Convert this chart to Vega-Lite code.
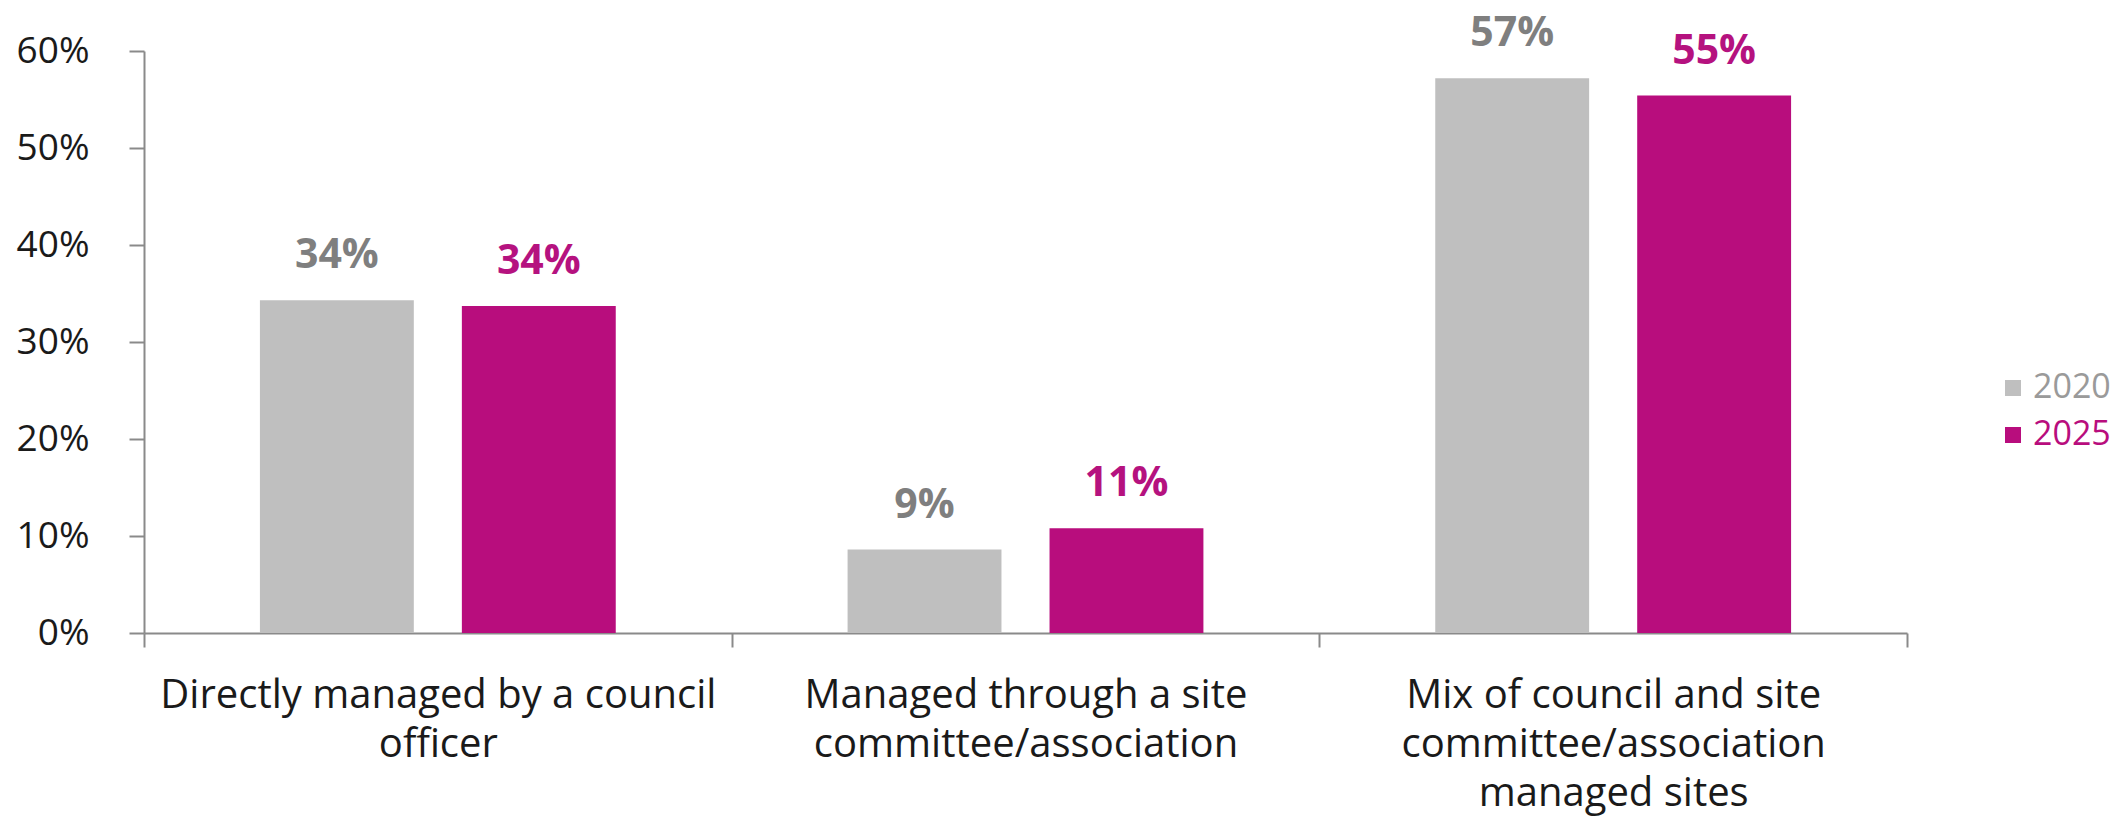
{
  "$schema": "https://vega.github.io/schema/vega-lite/v6.json",
  "width": 1763,
  "height": 582,
  "autosize": {"type": "none"},
  "padding": {"left": 144, "top": 51, "right": 206, "bottom": 192},
  "background": "white",
  "config": {"view": {"stroke": null}, "font": "Open Sans"},
  "data": {
    "values": [
      {"category": "Directly managed by a council officer", "year": "2020", "value": 0.343},
      {"category": "Directly managed by a council officer", "year": "2025", "value": 0.337},
      {"category": "Managed through a site committee/association", "year": "2020", "value": 0.086},
      {"category": "Managed through a site committee/association", "year": "2025", "value": 0.108},
      {"category": "Mix of council and site committee/association managed sites", "year": "2020", "value": 0.572},
      {"category": "Mix of council and site committee/association managed sites", "year": "2025", "value": 0.554}
    ]
  },
  "encoding": {
    "x": {
      "field": "category",
      "type": "nominal",
      "sort": null,
      "scale": {"paddingInner": 0, "paddingOuter": 0},
      "axis": {
        "title": null,
        "labelAngle": 0,
        "tickBand": "extent",
        "tickSize": 14,
        "tickColor": "#8a8a8a",
        "domainColor": "#8a8a8a",
        "domainWidth": 2,
        "tickWidth": 2,
        "labelFontSize": 40,
        "labelColor": "#1a1a1a",
        "labelPadding": 28,
        "labelLineHeight": 49,
        "labelBaseline": "top",
        "labelLimit": 0,
        "labelOverlap": false,
        "labelExpr": "datum.value == 'Directly managed by a council officer' ? ['Directly managed by a council', 'officer'] : datum.value == 'Managed through a site committee/association' ? ['Managed through a site', 'committee/association'] : datum.value == 'Mix of council and site committee/association managed sites' ? ['Mix of council and site', 'committee/association', 'managed sites'] : ''"
      }
    },
    "xOffset": {
      "field": "year",
      "type": "nominal",
      "scale": {"paddingInner": 0.238, "paddingOuter": 0.574}
    },
    "y": {
      "field": "value",
      "type": "quantitative",
      "scale": {"domain": [0, 0.6]},
      "axis": {
        "title": null,
        "grid": false,
        "format": ".0%",
        "values": [0, 0.1, 0.2, 0.3, 0.4, 0.5, 0.6],
        "tickSize": 15,
        "tickColor": "#8a8a8a",
        "domainColor": "#8a8a8a",
        "domainWidth": 2,
        "tickWidth": 2,
        "labelFontSize": 37,
        "labelColor": "#1a1a1a",
        "labelPadding": 40
      }
    }
  },
  "layer": [
    {
      "mark": {"type": "bar"},
      "encoding": {
        "color": {
          "field": "year",
          "type": "nominal",
          "scale": {"domain": ["2020", "2025"], "range": ["#bfbfbf", "#b80d7d"]},
          "legend": {
            "title": null,
            "orient": "none",
            "legendX": 1852,
            "legendY": 320,
            "padding": 0,
            "symbolType": "square",
            "symbolSize": 256,
            "symbolStrokeWidth": 0,
            "labelFontSize": 34,
            "rowPadding": 13,
            "labelOffset": 3,
            "labelLimit": 0,
            "encode": {
              "labels": {"update": {"fill": {"signal": "datum.value == '2020' ? '#9a9a9a' : '#b80d7d'"}}}
            }
          }
        }
      }
    },
    {
      "mark": {"type": "text", "dy": -32, "baseline": "alphabetic", "fontWeight": "bold", "fontSize": 41},
      "encoding": {
        "text": {"field": "value", "type": "quantitative", "format": ".0%"},
        "color": {"condition": {"test": "datum.year == '2020'", "value": "#7f7f7f"}, "value": "#b5127f"}
      }
    }
  ]
}
